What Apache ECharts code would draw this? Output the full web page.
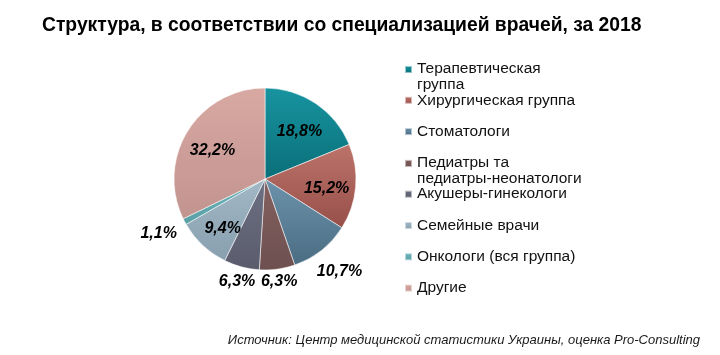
<!DOCTYPE html>
<html>
<head>
<meta charset="utf-8">
<script src="https://cdn.jsdelivr.net/npm/echarts@6/dist/echarts.min.js"></script>
<style>html,body{margin:0;padding:0;background:#fff}#c{width:720px;height:355px}</style>
</head>
<body>
<div id="c"></div>
<script>
// ---- data ----
const categories = [
  'Терапевтическая группа',
  'Хирургическая группа',
  'Стоматологи',
  'Педиатры та педиатры-неонатологи',
  'Акушеры-гинекологи',
  'Семейные врачи',
  'Онкологи (вся группа)',
  'Другие'
];
const values = [18.8, 15.2, 10.7, 6.3, 6.3, 9.4, 1.1, 32.2];
const legendLines = [
  ['Терапевтическая', 'группа'],
  ['Хирургическая группа'],
  ['Стоматологи'],
  ['Педиатры та', 'педиатры-неонатологи'],
  ['Акушеры-гинекологи'],
  ['Семейные врачи'],
  ['Онкологи (вся группа)'],
  ['Другие']
];
const titleText = 'Структура, в соответствии со специализацией врачей, за 2018';
const sourceText = 'Источник: Центр медицинской статистики Украины, оценка Pro-Consulting';

// ---- style ----
const topColors = ['#1794A0', '#BC736A', '#6C93AC', '#83605F', '#6D7083', '#A2B8C6', '#6DB5BA', '#D8A8A2'];
const bottomColors = ['#0A6F79', '#974F4A', '#4A6C82', '#6E5050', '#5A5C6C', '#889FAF', '#58A0A5', '#C29490'];
const labelInside = [true, true, false, false, false, true, false, true];
const PIE_CX = 265, PIE_CY = 179, PIE_R = 91;
const LEGEND_LEFT = 399, LEGEND_TOP = 56, LEGEND_STEP = 31.3;
const FONT = '"Liberation Sans", Arial, sans-serif';

const chart = echarts.init(document.getElementById('c'), null, {renderer: 'canvas'});

const seriesData = categories.map((name, i) => ({
  name: name,
  value: values[i],
  itemStyle: {
    color: {
      type: 'linear', x: 0, y: 0, x2: 0, y2: 1,
      colorStops: [{offset: 0, color: topColors[i]}, {offset: 1, color: bottomColors[i]}]
    }
  }
}));

const legendMap = {};
categories.forEach((c, i) => { legendMap[c] = legendLines[i]; });

const legends = categories.map((name, i) => ({
  orient: 'vertical',
  left: LEGEND_LEFT,
  top: LEGEND_TOP + i * LEGEND_STEP,
  itemWidth: 7, itemHeight: 7,
  icon: 'rect',
  data: [name],
  selectedMode: false,
  formatter: function (n) {
    const lines = legendMap[n];
    if (lines.length === 1) return '{a|' + lines[0] + '}';
    return '{a|' + lines[0] + '}\n{b|' + lines[1] + '}';
  },
  textStyle: {
    fontFamily: FONT, fontSize: 15.5, color: '#111',
    rich: {
      a: {fontFamily: FONT, fontSize: 15.5, color: '#111', lineHeight: 16},
      b: {fontFamily: FONT, fontSize: 15.5, color: '#111', lineHeight: 1, verticalAlign: 'top'}
    }
  }
}));

chart.setOption({
  animation: false,
  title: [
    {
      text: titleText,
      left: 37, top: 11,
      textStyle: {fontFamily: FONT, fontSize: 19.3, fontWeight: 'bold', color: '#000'}
    },
    {
      text: sourceText,
      right: 15, top: 329,
      textStyle: {fontFamily: FONT, fontSize: 13, fontStyle: 'italic', fontWeight: 'normal', color: '#1a1a1a'}
    }
  ],
  legend: legends,
  series: [{
    type: 'pie',
    center: [PIE_CX, PIE_CY],
    radius: PIE_R,
    startAngle: 90,
    clockwise: true,
    avoidLabelOverlap: false,
    itemStyle: {borderColor: 'rgba(255,255,255,0.55)', borderWidth: 1},
    label: {
      show: true,
      position: 'inside',
      formatter: function (p) { return String(p.value.toFixed(1)).replace('.', ',') + '%'; },
      fontFamily: FONT, fontSize: 16, fontWeight: 'bold', fontStyle: 'italic', color: '#000'
    },
    labelLine: {show: false},
    labelLayout: function (params) {
      const r = params.labelRect;
      const lx = r.x + r.width / 2, ly = r.y + r.height / 2;
      let dx = lx - PIE_CX, dy = ly - PIE_CY;
      const len = Math.sqrt(dx * dx + dy * dy) || 1;
      dx /= len; dy /= len;
      let dist, shiftY;
      if (labelInside[params.dataIndex]) {
        dist = PIE_R * 0.68;
        shiftY = 4;
      } else {
        const ext = Math.abs(dx) * r.width * 0.7 + Math.abs(dy) * r.height / 2;
        dist = PIE_R + 3 + ext;
        shiftY = -2;
      }
      return {x: PIE_CX + dx * dist, y: PIE_CY + dy * dist + shiftY};
    },
    emphasis: {disabled: true},
    data: seriesData
  }]
});
</script>
</body>
</html>
